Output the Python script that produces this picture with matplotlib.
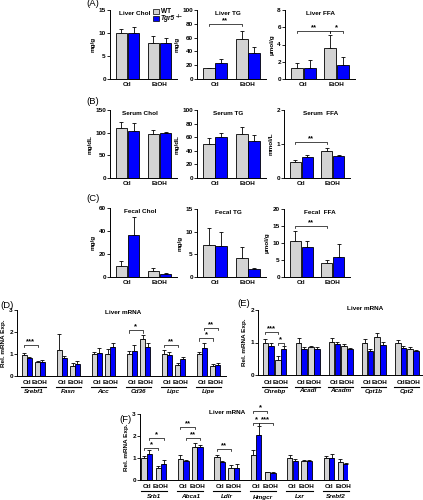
import numpy as np
import matplotlib
matplotlib.use("Agg")
import matplotlib.pyplot as plt
from matplotlib.patches import Rectangle
from matplotlib.transforms import blended_transform_factory

plt.rcParams['font.family'] = ['Liberation Sans', 'DejaVu Sans']
plt.rcParams['font.weight'] = 'bold'

# ---------------- data ----------------
conditions = ['Ctl', 'EtOH']
series_labels = ['WT', 'Tgr5']
series_label_sup = ['', '\u2212/\u2212']

# (A) liver
liver_chol_wt = [9.9, 7.75];   liver_chol_wt_err = [0.9, 1.6]
liver_chol_ko = [10.1, 7.75];  liver_chol_ko_err = [1.1, 1.1]
liver_tg_wt = [15.5, 57.5];    liver_tg_wt_err = [0.9, 12.5]
liver_tg_ko = [22.7, 37.2];    liver_tg_ko_err = [5.8, 9.7]
liver_ffa_wt = [1.24, 3.55];   liver_ffa_wt_err = [0.56, 1.55]
liver_ffa_ko = [1.3, 1.62];    liver_ffa_ko_err = [0.9, 0.88]
# (B) serum
serum_chol_wt = [111, 96.6];   serum_chol_wt_err = [13, 9.5]
serum_chol_ko = [104.6, 99.5]; serum_chol_ko_err = [16, 3]
serum_tg_wt = [50.7, 64.4];    serum_tg_wt_err = [8.8, 10.6]
serum_tg_ko = [60.5, 53.7];    serum_tg_ko_err = [6.3, 10.2]
serum_ffa_wt = [0.48, 0.79];   serum_ffa_wt_err = [0.04, 0.08]
serum_ffa_ko = [0.62, 0.64];   serum_ffa_ko_err = [0.05, 0.05]
# (C) fecal
fecal_chol_wt = [9.6, 5.3];    fecal_chol_wt_err = [4.1, 2.6]
fecal_chol_ko = [36.5, 2.9];   fecal_chol_ko_err = [15.3, 0.6]
fecal_tg_wt = [7.0, 4.2];      fecal_tg_wt_err = [3.8, 2.5]
fecal_tg_ko = [6.8, 1.7];      fecal_tg_ko_err = [3.05, 0.3]
fecal_ffa_wt = [10.6, 4.1];    fecal_ffa_wt_err = [3.0, 1.0]
fecal_ffa_ko = [8.8, 5.8];     fecal_ffa_ko_err = [1.8, 4.0]

# (D) liver mRNA, lipid genes
d_genes = ['Srebf1', 'Fasn', 'Acc', 'Cd36', 'Lipc', 'Lipe']
d_ctl_wt = [0.95, 1.18, 1.0, 1.0, 1.0, 1.0];     d_ctl_wt_err = [0.08, 0.72, 0.1, 0.13, 0.18, 0.1]
d_ctl_ko = [0.8, 0.8, 1.03, 1.15, 0.95, 1.26];   d_ctl_ko_err = [0.08, 0.1, 0.23, 0.25, 0.12, 0.22]
d_etoh_wt = [0.65, 0.47, 1.0, 1.7, 0.5, 0.45];   d_etoh_wt_err = [0.05, 0.13, 0.23, 0.16, 0.08, 0.08]
d_etoh_ko = [0.64, 0.55, 1.33, 1.33, 0.77, 0.5]; d_etoh_ko_err = [0.09, 0.13, 0.15, 0.15, 0.11, 0.08]

# (E) liver mRNA, oxidation genes
e_genes = ['Chrebp', 'Acadl', 'Acadm', 'Cpt1b', 'Cpt2']
e_ctl_wt = [1.0, 1.0, 1.03, 1.0, 1.0];      e_ctl_wt_err = [0.1, 0.13, 0.1, 0.1, 0.08]
e_ctl_ko = [0.89, 0.81, 0.94, 0.74, 0.83];  e_ctl_ko_err = [0.11, 0.06, 0.08, 0.06, 0.07]
e_etoh_wt = [0.46, 0.85, 0.9, 1.18, 0.8];   e_etoh_wt_err = [0.12, 0.05, 0.04, 0.1, 0.07]
e_etoh_ko = [0.79, 0.81, 0.8, 0.92, 0.74];  e_etoh_ko_err = [0.1, 0.04, 0.03, 0.11, 0.03]

# (F) liver mRNA, cholesterol genes
f_genes = ['Srb1', 'Abca1', 'Ldlr', 'Hmgcr', 'Lxr', 'Srebf2']
f_ctl_wt = [1.0, 0.97, 1.03, 1.15, 1.0, 1.0];    f_ctl_wt_err = [0.1, 0.15, 0.12, 0.23, 0.12, 0.08]
f_ctl_ko = [1.2, 0.85, 0.8, 2.05, 0.88, 1.0];    f_ctl_ko_err = [0.18, 0.04, 0.08, 0.41, 0.07, 0.18]
f_etoh_wt = [0.54, 1.49, 0.54, 0.35, 0.85, 0.8]; f_etoh_wt_err = [0.08, 0.2, 0.12, 0.03, 0.06, 0.17]
f_etoh_ko = [0.72, 1.49, 0.54, 0.31, 0.86, 0.74]; f_etoh_ko_err = [0.2, 0.11, 0.18, 0.07, 0.05, 0.04]

# significance brackets: (group, bar_i, bar_j, y, text); bars 0..3 = Ctl WT, Ctl KO, EtOH WT, EtOH KO
a2_sig = [(0, 0, 2, 80, '**')]
a3_sig = [(0, 0, 2, 5.6, '**'), (0, 2, 3, 5.6, '*')]
b3_sig = [(0, 0, 2, 1.06, '**')]
c3_sig = [(0, 0, 2, 15, '**')]
d_sig = [(0, 0, 2, 1.41, '***'), (3, 0, 2, 2.09, '*'), (4, 0, 2, 1.41, '**'),
         (5, 0, 2, 1.72, '*'), (5, 1, 3, 2.2, '**')]
e_sig = [(0, 0, 2, 1.33, '***'), (0, 2, 3, 0.99, '*')]
f_sig = [(0, 0, 2, 1.46, '*'), (0, 1, 3, 1.92, '*'), (1, 0, 2, 2.42, '**'), (1, 1, 3, 1.92, '**'),
         (2, 0, 2, 1.43, '**'), (3, 0, 2, 3.15, '*'), (3, 0, 1, 2.6, '*'), (3, 1, 3, 2.6, '***')]

# ---------------- styling ----------------
W, H = 423, 500
GRAY = '#d3d3d3'
BLUE = '#0000ff'
FS = 4.6
LW = 0.6

fig = plt.figure(figsize=(W / 100, H / 100), dpi=100)


def ax_px(x0, x1, y0, y1):
    return fig.add_axes([x0 / W, 1 - y1 / H, (x1 - x0) / W, (y1 - y0) / H])


def style(ax, ylim, yticks):
    for s in ['top', 'right']:
        ax.spines[s].set_visible(False)
    for s in ['left', 'bottom']:
        ax.spines[s].set_linewidth(0.7)
    ax.set_ylim(*ylim)
    ax.set_yticks(yticks)
    ax.set_yticklabels([f'{t:g}' for t in yticks], fontsize=FS, fontweight='bold')
    ax.tick_params(axis='y', length=2, width=0.6, pad=1)
    ax.tick_params(axis='x', length=0, pad=2)


def bracket(ax, x1, x2, y, text, hpx, ypx_per_unit):
    h = hpx / ypx_per_unit
    ax.plot([x1, x1, x2, x2], [y - h, y, y, y - h], color='k', lw=0.5, clip_on=False)
    ax.text((x1 + x2) / 2, y - 0.3 / ypx_per_unit, text, ha='center', va='bottom',
            fontsize=5.5, fontweight='bold', clip_on=False)


def draw_bars(ax, xs, vals, errs, color, width):
    ax.bar(xs, vals, width, color=color, edgecolor='k', linewidth=LW, zorder=2)
    ax.errorbar(xs, vals, yerr=[np.zeros(len(vals)), errs], fmt='none', ecolor='k',
                elinewidth=LW, capsize=1.6, capthick=LW, zorder=1)


def small_panel(rect, title, title_x, ylabel, ylim, yticks, wt, wt_err, ko, ko_err, sig):
    x0, x1, y0, y1 = rect
    ax = ax_px(*rect)
    x = np.arange(len(conditions))
    off, w = 0.19, 0.365
    draw_bars(ax, x - off, wt, wt_err, GRAY, w)
    draw_bars(ax, x + off, ko, ko_err, BLUE, w)
    ax.set_xlim(-0.55, 1.55)
    style(ax, ylim, yticks)
    ax.set_xticks(x)
    ax.set_xticklabels(conditions, fontsize=FS, fontweight='bold')
    ax.set_ylabel(ylabel, fontsize=FS, fontweight='bold', labelpad=2)
    ax.text(title_x, 1 - 3.5 / (y1 - y0), title, transform=ax.transAxes, ha='center',
            va='center', fontsize=FS, fontweight='bold')
    ppu = (y1 - y0) / (ylim[1] - ylim[0])
    offs = [-off, off, 1 - off, 1 + off]
    for g, i, j, y, t in sig:
        bracket(ax, offs[i], offs[j], y, t, 2.5, ppu)
    return ax


def mrna_panel(rect, genes, series, errs, offs, width, xlim, sig, title_px, dy):
    x0, x1, y0, y1 = rect
    ax = ax_px(*rect)
    hpx = y1 - y0
    g = np.arange(len(genes))
    colors = [GRAY, BLUE, GRAY, BLUE]
    for k in range(4):
        draw_bars(ax, g + offs[k], series[k], errs[k], colors[k], width)
    ax.set_xlim(*xlim)
    style(ax, (0, 3) if len(genes) != 5 else (0, 2), [0, 1, 2, 3] if len(genes) != 5 else [0, 1, 2])
    ax.set_xticks([])
    ax.set_ylabel('Rel. mRNA Exp.', fontsize=FS, fontweight='bold', labelpad=2)
    ylim = ax.get_ylim()
    ppu = hpx / (ylim[1] - ylim[0])
    tr = blended_transform_factory(ax.transData, ax.transAxes)
    dl, du, dg = dy
    for i in g:
        ax.text(i + (offs[0] + offs[1]) / 2, -dl / hpx, 'Ctl', transform=tr, ha='center',
                va='center', fontsize=FS, fontweight='bold')
        ax.text(i + (offs[2] + offs[3]) / 2, -dl / hpx, 'EtOH', transform=tr, ha='center',
                va='center', fontsize=FS, fontweight='bold')
        ax.plot([i + offs[0] - width / 2 - 0.02, i + offs[3] + width / 2 + 0.02], [-du / hpx] * 2,
                transform=tr, color='k', lw=0.8, clip_on=False)
        ax.text(i + (offs[1] + offs[2]) / 2, -dg / hpx, genes[i], transform=tr, ha='center',
                va='center', fontsize=FS, fontweight='bold', fontstyle='italic')
    for gi, i, j, y, t in sig:
        bracket(ax, gi + offs[i], gi + offs[j], y, t, 2.5, ppu)
    fig.text(title_px[0] / W, 1 - title_px[1] / H, 'Liver mRNA', ha='center', va='center',
             fontsize=FS, fontweight='bold')
    return ax


# ---------- row A ----------
axA1 = small_panel((110, 177, 10, 79), 'Liver Chol', 0.37, 'mg/g', (0, 15), [0, 5, 10, 15],
                   liver_chol_wt, liver_chol_wt_err, liver_chol_ko, liver_chol_ko_err, [])
small_panel((197, 266, 10, 79), 'Liver TG', 0.45, 'mg/g', (0, 100), [0, 20, 40, 60, 80, 100],
            liver_tg_wt, liver_tg_wt_err, liver_tg_ko, liver_tg_ko_err, a2_sig)
small_panel((285, 355, 10, 79), 'Liver FFA', 0.5, 'µmol/g', (0, 8), [0, 2, 4, 6, 8],
            liver_ffa_wt, liver_ffa_wt_err, liver_ffa_ko, liver_ffa_ko_err, a3_sig)
# ---------- row B ----------
small_panel((110, 177, 110, 178), 'Serum Chol', 0.45, 'mg/dL', (0, 150), [0, 50, 100, 150],
            serum_chol_wt, serum_chol_wt_err, serum_chol_ko, serum_chol_ko_err, [])
small_panel((197, 266, 110, 178), 'Serum TG', 0.45, 'mg/dL', (0, 100), [0, 20, 40, 60, 80, 100],
            serum_tg_wt, serum_tg_wt_err, serum_tg_ko, serum_tg_ko_err, [])
small_panel((284, 350, 110, 178), 'Serum  FFA', 0.55, 'mmol/L', (0, 2), [0, 1, 2],
            serum_ffa_wt, serum_ffa_wt_err, serum_ffa_ko, serum_ffa_ko_err, b3_sig)
# ---------- row C ----------
small_panel((110, 177, 208, 277), 'Fecal Chol', 0.45, 'mg/g', (0, 60), [0, 20, 40, 60],
            fecal_chol_wt, fecal_chol_wt_err, fecal_chol_ko, fecal_chol_ko_err, [])
small_panel((197, 266, 209, 277), 'Fecal TG', 0.45, 'mg/g', (0, 15), [0, 5, 10, 15],
            fecal_tg_wt, fecal_tg_wt_err, fecal_tg_ko, fecal_tg_ko_err, [])
small_panel((284, 350, 209, 277), 'Fecal  FFA', 0.55, 'µmol/g', (0, 20), [0, 5, 10, 15, 20],
            fecal_ffa_wt, fecal_ffa_wt_err, fecal_ffa_ko, fecal_ffa_ko_err, c3_sig)

# legend (in panel A1)
fig.canvas.draw()
renderer = fig.canvas.get_renderer()
for k, (col, lab, sup) in enumerate(zip([GRAY, BLUE], series_labels, series_label_sup)):
    yb = 9.5 + k * 7
    fig.add_artist(Rectangle((152.7 / W, 1 - (yb + 4.5) / H), 6.6 / W, 4.5 / H,
                             transform=fig.transFigure, facecolor=col, edgecolor='k', lw=0.5))
    t = fig.text(161 / W, 1 - (yb + 2.3) / H, lab, ha='left', va='center', fontsize=4.7,
                 fontweight='bold', fontstyle='italic' if sup else 'normal')
    if sup:
        bb = t.get_window_extent(renderer)
        fig.text((bb.x1 + 0.3) / W, 1 - (yb + 0.2) / H, sup, ha='left', va='center',
                 fontsize=3.3, fontweight='bold')

# ---------- row D/E/F ----------
mrna_panel((17, 226, 310, 376), d_genes,
           [d_ctl_wt, d_ctl_ko, d_etoh_wt, d_etoh_ko],
           [d_ctl_wt_err, d_ctl_ko_err, d_etoh_wt_err, d_etoh_ko_err],
           [-0.26, -0.119, 0.119, 0.26], 0.143, (-0.467, 5.5), d_sig, (123, 313), (7, 11, 15.5))
mrna_panel((258, 422, 310, 375), e_genes,
           [e_ctl_wt, e_ctl_ko, e_etoh_wt, e_etoh_ko],
           [e_ctl_wt_err, e_ctl_ko_err, e_etoh_wt_err, e_etoh_ko_err],
           [-0.275, -0.1, 0.1, 0.275], 0.17, (-0.5, 4.46), e_sig, (365, 308), (7, 12, 16))
mrna_panel((140, 348, 414, 480), f_genes,
           [f_ctl_wt, f_ctl_ko, f_etoh_wt, f_etoh_ko],
           [f_ctl_wt_err, f_ctl_ko_err, f_etoh_wt_err, f_etoh_ko_err],
           [-0.27, -0.12, 0.12, 0.27], 0.145, (-0.38, 5.33), f_sig, (227, 413), (7, 11, 17))

# panel labels
for lab, (px, py) in {'(A)': (86, 4), '(B)': (86, 101.5), '(C)': (86, 198.5),
                      '(D)': (0, 305), '(E)': (237, 303), '(F)': (119, 419)}.items():
    fig.text(px / W, 1 - py / H, lab, ha='left', va='center', fontsize=6.8, fontweight='normal')

fig.savefig('out.png', dpi=100)
